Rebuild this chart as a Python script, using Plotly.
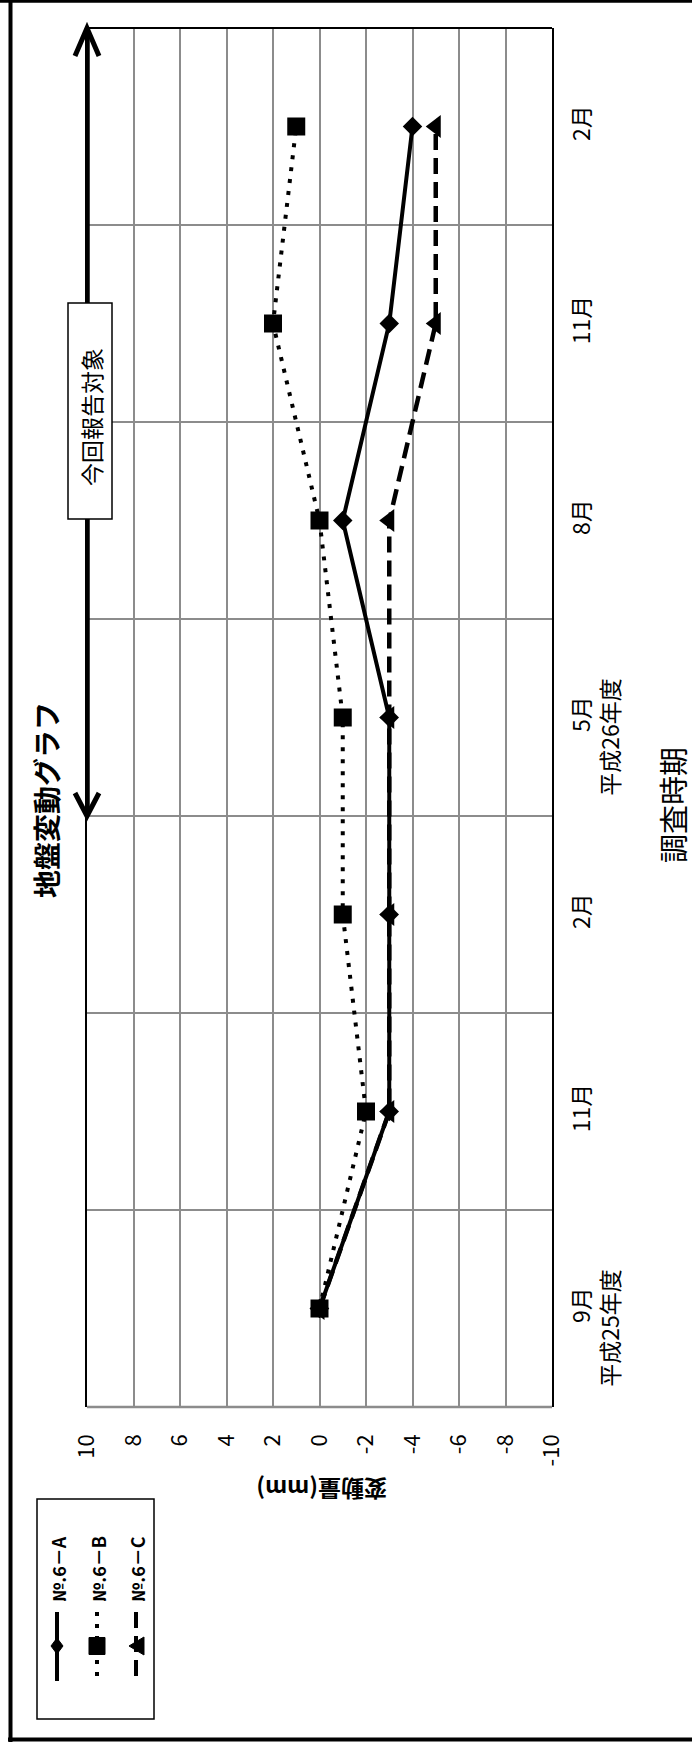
import plotly.graph_objects as go

# Survey periods (bottom to top) and the fiscal year printed under the first month of each year
periods = ["9月", "11月", "2月", "5月", "8月", "11月", "2月"]
fiscal_years = ["平成25年度", "", "", "平成26年度", "", "", ""]

# Ground displacement (mm) at each survey
series_names = ["№.6－A", "№.6－B", "№.6－C"]
values_a = [0, -3, -3, -3, -1, -3, -4]
values_b = [0, -2, -1, -1, 0, 2, 1]
values_c = [0, -3, -3, -3, -3, -5, -5]

value_ticks = [10, 8, 6, 4, 2, 0, -2, -4, -6, -8, -10]
report_first = 3  # first survey covered by this report (5月)

FONT = "Noto Sans CJK JP"
W, H = 692, 1742
L, R, T, B = 87, 552, 28, 1407


def px(x):
    return (x - L) / (R - L)


def py(y):
    return (B - y) / (B - T)


def path(points, close=False):
    s = "M " + " L ".join(f"{px(x):.5f},{py(y):.5f}" for x, y in points)
    return s + (" Z" if close else "")


pos = list(range(len(periods)))
ticktext = [
    p + ("<br>" + fy + "\u3000\u3000" if fy else "") for p, fy in zip(periods, fiscal_years)
]

fig = go.Figure()

styles = [
    (values_a, "solid", 4, "diamond", 15),
    (values_c, "16px,8px", 4.5, "triangle-left", 20),
    (values_b, "4px,8px", 4, "square", 18),
]
for vals, dash, lw, sym, size in styles:
    fig.add_trace(go.Scatter(
        x=vals, y=pos, mode="lines+markers",
        line=dict(color="black", width=lw, dash=dash),
        marker=dict(symbol=sym, size=size, color="black"),
        showlegend=False, cliponaxis=False, hoverinfo="skip",
    ))

shapes = []
# outer frame
shapes.append(dict(type="line", xref="paper", yref="paper", x0=px(10.5), x1=px(10.5), y0=py(0), y1=py(H), line=dict(color="black", width=4)))
shapes.append(dict(type="line", xref="paper", yref="paper", x0=px(0), x1=px(W), y0=py(1.3), y1=py(1.3), line=dict(color="black", width=3)))
shapes.append(dict(type="line", xref="paper", yref="paper", x0=px(8), x1=px(W), y0=py(1739.5), y1=py(1739.5), line=dict(color="black", width=4)))
# plot area top / bottom edges
shapes.append(dict(type="line", xref="paper", yref="paper", x0=0, x1=1, y0=1, y1=1, line=dict(color="black", width=2)))
shapes.append(dict(type="line", xref="paper", yref="paper", x0=0, x1=1, y0=0, y1=0, line=dict(color="#8c8c8c", width=2.5)))

# double-headed arrow marking the reported period
top_y = len(periods) - 0.5
low_y = report_first - 0.5
shapes.append(dict(type="line", xref="x", yref="y", x0=value_ticks[0], x1=value_ticks[0], y0=low_y, y1=top_y, line=dict(color="black", width=5.5)))
low_px = B - (low_y + 0.5) / len(periods) * (B - T)
shapes.append(dict(type="path", xref="paper", yref="paper", path=path([(75, 56), (L, T), (99, 56)]), line=dict(color="black", width=5)))
shapes.append(dict(type="path", xref="paper", yref="paper", path=path([(75, low_px - 23), (L, low_px), (99, low_px - 23)]), line=dict(color="black", width=5)))
shapes.append(dict(type="rect", xref="paper", yref="paper", x0=px(68), x1=px(112), y0=py(303), y1=py(519), fillcolor="white", line=dict(color="black", width=1.5)))

# legend
shapes.append(dict(type="rect", xref="paper", yref="paper", x0=px(37), x1=px(154), y0=py(1499), y1=py(1719), fillcolor="white", line=dict(color="black", width=1.5)))
leg_x = [57, 97, 136]
leg_dash = ["solid", "4px,8px", "16px,8px"]
for lx, dash in zip(leg_x, leg_dash):
    shapes.append(dict(type="line", xref="paper", yref="paper", x0=px(lx), x1=px(lx), y0=py(1612), y1=py(1681), line=dict(color="black", width=4, dash=dash)))
my = 1646
shapes.append(dict(type="path", xref="paper", yref="paper", path=path([(51, my), (57, my - 8), (63, my), (57, my + 8)], True), fillcolor="black", line=dict(color="black", width=1)))
shapes.append(dict(type="path", xref="paper", yref="paper", path=path([(89, my - 8.5), (105, my - 8.5), (105, my + 8.5), (89, my + 8.5)], True), fillcolor="black", line=dict(color="black", width=1)))
shapes.append(dict(type="path", xref="paper", yref="paper", path=path([(129, my), (144, my - 9), (144, my + 9)], True), fillcolor="black", line=dict(color="black", width=1)))

annotations = []
for lx, name in zip(leg_x, series_names):
    annotations.append(dict(text="<b>" + name + "</b>", xref="paper", yref="paper", x=px(lx + 1), y=py(1604), xanchor="center", yanchor="bottom", textangle=-90, showarrow=False, font=dict(family=FONT, size=18, color="black")))

annotations.append(dict(text="<b>地盤変動グラフ</b>", xref="paper", yref="paper", x=px(46), y=py(800), xanchor="center", yanchor="middle", textangle=-90, showarrow=False, font=dict(family=FONT, size=28, color="black")))
annotations.append(dict(text="今回報告対象", xref="paper", yref="paper", x=px(91), y=py(417), xanchor="center", yanchor="middle", textangle=-90, showarrow=False, font=dict(family=FONT, size=23, color="black")))
annotations.append(dict(text="<b>変動量(mm)</b>", xref="paper", yref="paper", x=px(322), y=py(1490), xanchor="center", yanchor="middle", textangle=180, showarrow=False, font=dict(family=FONT, size=23, color="black")))
annotations.append(dict(text="調査時期", xref="paper", yref="paper", x=px(672), y=py(805), xanchor="center", yanchor="middle", textangle=-90, showarrow=False, font=dict(family=FONT, size=29, color="black")))

fig.update_layout(
    width=W, height=H,
    margin=dict(l=L, r=W - R, t=T, b=H - B, pad=0),
    paper_bgcolor="white", plot_bgcolor="white",
    shapes=shapes, annotations=annotations,
    font=dict(family=FONT, color="black"),
    xaxis=dict(
        range=[value_ticks[0], value_ticks[-1]],
        tickmode="array", tickvals=value_ticks, ticktext=[str(v) for v in value_ticks],
        tickangle=-90, tickfont=dict(family=FONT, size=22, color="black"),
        showgrid=True, gridcolor="#8c8c8c", gridwidth=2,
        zeroline=False, showline=False, ticks="", ticklabelstandoff=22,
    ),
    yaxis=dict(
        range=[-0.5, len(periods) - 0.5], side="right",
        tickmode="array", tickvals=pos, ticktext=ticktext,
        tickangle=-90, tickfont=dict(family=FONT, size=23, color="black"),
        showgrid=False, zeroline=False,
        showline=True, linecolor="black", linewidth=2, mirror=True,
        ticks="", ticklabelstandoff=8,
        minor=dict(tickvals=[p + 0.5 for p in pos[:-1]], showgrid=True, gridcolor="#8c8c8c", gridwidth=2, ticks=""),
    ),
)

fig.write_html("out.html")
